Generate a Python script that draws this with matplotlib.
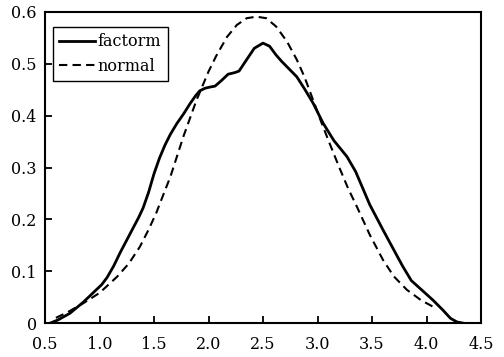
import matplotlib
matplotlib.use('Agg')
import matplotlib.pyplot as plt
from matplotlib import rcParams
rcParams['font.family'] = 'serif'
rcParams['font.serif'] = ['DejaVu Serif']
rcParams['font.size'] = 11.5

# factorm curve
fx = [0.55, 0.62, 0.73, 0.85, 0.95, 1.02, 1.07, 1.13, 1.19, 1.25, 1.31, 1.36, 1.40, 1.45, 1.50,
      1.55, 1.60, 1.65, 1.71, 1.77, 1.83, 1.88, 1.92, 1.97, 2.01, 2.06, 2.12, 2.18, 2.24, 2.28,
      2.34, 2.42, 2.50, 2.56, 2.62, 2.67, 2.74, 2.81, 2.88, 2.96, 3.05, 3.15, 3.27, 3.35, 3.48,
      3.60, 3.70, 3.78, 3.86, 3.96, 4.06, 4.15, 4.22, 4.28, 4.33]
fy = [0.0, 0.006, 0.019, 0.040, 0.060, 0.074, 0.088, 0.110, 0.136, 0.160, 0.184, 0.204, 0.222, 0.252, 0.288,
      0.318, 0.343, 0.364, 0.385, 0.403, 0.423, 0.438, 0.448, 0.453, 0.455, 0.457, 0.468, 0.480, 0.483, 0.486,
      0.505, 0.530, 0.540, 0.534, 0.517, 0.505, 0.490, 0.475, 0.452, 0.424, 0.386, 0.352, 0.321, 0.292, 0.228,
      0.180, 0.141, 0.110, 0.082, 0.063, 0.044, 0.025, 0.009, 0.002, 0.0]

# normal curve
nx = [0.60, 0.70, 0.85, 1.00, 1.16, 1.27, 1.37, 1.45, 1.52, 1.59, 1.65, 1.71, 1.77, 1.83,
      1.89, 1.94, 2.00, 2.07, 2.17, 2.26, 2.35, 2.44, 2.53, 2.62, 2.72, 2.81, 2.88, 2.96,
      3.03, 3.11, 3.20, 3.28, 3.36, 3.48, 3.60, 3.70, 3.82, 3.95, 4.09]
ny = [0.010, 0.020, 0.038, 0.058, 0.089, 0.115, 0.147, 0.180, 0.212, 0.250, 0.282, 0.321, 0.360, 0.395,
      0.430, 0.455, 0.485, 0.515, 0.552, 0.575, 0.588, 0.591, 0.588, 0.572, 0.543, 0.508, 0.475, 0.430,
      0.390, 0.347, 0.300, 0.260, 0.225, 0.170, 0.122, 0.090, 0.064, 0.044, 0.028]

xticks = [0.5, 1.0, 1.5, 2.0, 2.5, 3.0, 3.5, 4.0, 4.5]
xlabels = ['0.5', '1.0', '1.5', '2.0', '2.5', '3.0', '3.5', '4.0', '4.5']
yticks = [0, 0.1, 0.2, 0.3, 0.4, 0.5, 0.6]
ylabels = ['0', '0.1', '0.2', '0.3', '0.4', '0.5', '0.6']

fig = plt.figure(figsize=(5.04, 3.57), dpi=100)
ax = fig.add_axes([0.0893, 0.0952, 0.8651, 0.8712])

ax.plot(fx, fy, color='black', lw=2, label='factorm', solid_joinstyle='round')
ax.plot(nx, ny, color='black', lw=1.5, ls=(0, (4, 2.5)), label='normal')

ax.set_xlim(0.5, 4.5)
ax.set_ylim(0, 0.6)
ax.set_xticks(xticks)
ax.set_xticklabels(xlabels)
ax.set_yticks(yticks)
ax.set_yticklabels(ylabels)
ax.tick_params(direction='in', length=5, width=1.3)
ax.tick_params(axis='x', pad=9)
ax.tick_params(axis='y', pad=6)
for s in ax.spines.values():
    s.set_linewidth(1.5)

leg = ax.legend(loc='upper left', bbox_to_anchor=(0.018, 0.952), borderaxespad=0,
                fancybox=False, edgecolor='black', handlelength=2.25, handletextpad=0.15,
                labelspacing=0.45, framealpha=1)
leg.get_frame().set_linewidth(1.0)

fig.savefig('out.png', dpi=100)
